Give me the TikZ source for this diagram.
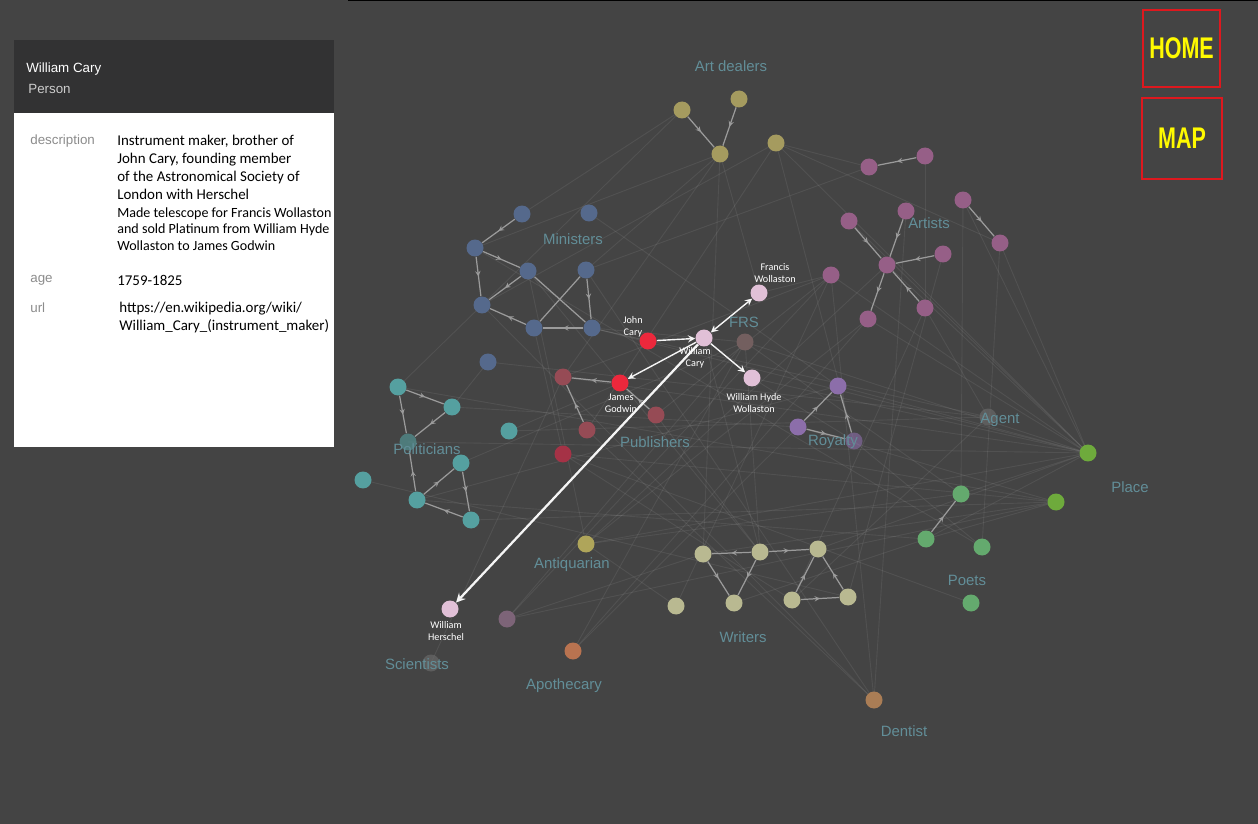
\documentclass[tikz,border=0pt]{standalone}
\usepackage{fontspec}
\usepackage{graphicx}
\setmainfont{Liberation Sans}
\newfontfamily\carlito{Carlito}
\usetikzlibrary{arrows,decorations.markings,backgrounds}

\definecolor{bgc}{RGB}{68,68,68}
\definecolor{cardhead}{RGB}{50,50,51}
\definecolor{headgray}{RGB}{205,205,205}
\definecolor{keygray}{RGB}{140,140,140}
\definecolor{grplbl}{RGB}{98,142,152}
\definecolor{edgegray}{RGB}{155,155,155}
\definecolor{navred}{RGB}{222,24,30}
\definecolor{navyel}{RGB}{255,250,0}
% group colours
\definecolor{adc}{RGB}{165,155,95}
\definecolor{arc}{RGB}{150,95,135}
\definecolor{mic}{RGB}{85,105,140}
\definecolor{poc}{RGB}{85,160,160}
\definecolor{puc}{RGB}{150,75,85}
\definecolor{pud}{RGB}{165,50,70}
\definecolor{hotc}{RGB}{236,40,60}
\definecolor{selc}{RGB}{225,192,215}
\definecolor{frsc}{RGB}{115,95,95}
\definecolor{roc}{RGB}{140,110,170}
\definecolor{agc}{RGB}{110,110,110}
\definecolor{plc}{RGB}{110,170,60}
\definecolor{pec}{RGB}{100,170,110}
\definecolor{wrc}{RGB}{185,185,145}
\definecolor{anc}{RGB}{175,165,90}
\definecolor{scc}{RGB}{125,100,120}
\definecolor{apc}{RGB}{185,115,80}
\definecolor{dec}{RGB}{170,125,85}

\tikzset{
  dot/.style={circle,inner sep=0pt,minimum size=0.34cm},
  grouplbl/.style={text=grplbl,font=\fontsize{8.5}{10}\selectfont,inner sep=0pt},
  wlabel/.style={text=white,align=center,inner sep=0pt,
    font=\carlito\fontsize{5.8}{6.9}\selectfont},
  keytxt/.style={text=keygray,anchor=west,inner sep=0pt,
    font=\fontsize{7.6}{9}\selectfont},
  cardtxt/.style={text=black,align=left,inner sep=0pt,
    font=\carlito\fontsize{8.5}{10.2}\selectfont},
  gedge/.style={draw=edgegray,line width=0.7pt,postaction={decorate},
    decoration={markings,mark=at position 0.5 with {\arrow[scale=0.8]{stealth}}}},
  hedge/.style={draw=white!92!gray,line width=0.8pt,-stealth},
  bedge/.style={draw=white,opacity=0.075,line width=0.5pt},
  navbox/.style={draw=navred,line width=1.3pt,inner sep=0pt,text=navyel}
}

\begin{document}
\begin{tikzpicture}[x=0.02cm,y=-0.02cm]
  \useasboundingbox (0,0) rectangle (1258,824);

  % info card
  \fill[cardhead] (14,40) rectangle (334,113);
  \fill[white] (14,113) rectangle (334,447);
  \node[anchor=west,inner sep=0pt,text=white,font=\fontsize{7.6}{9}\selectfont] (cname) at (26,69) {William Cary};
  \node[anchor=west,inner sep=0pt,text=headgray,font=\fontsize{7.6}{9}\selectfont] (ctype) at (28,89) {Person};
  \node[keytxt] (kdesc) at (30,141) {description};
  \node[keytxt] (kage) at (30,280) {age};
  \node[keytxt] (kurl) at (30,308) {url};
  \node[cardtxt,anchor=north west] (vdesc) at (117,135)
    {Instrument maker, brother of\\John Cary, founding member\\of the Astronomical Society of\\London with Herschel};
  \node[cardtxt,anchor=north west,font=\carlito\fontsize{8}{9.6}\selectfont] (vmade) at (117,207)
    {Made telescope for Francis Wollaston\\and sold Platinum from William Hyde\\Wollaston to James Godwin};
  \node[cardtxt,anchor=west] (vage) at (117,280) {1759-1825};
  \node[cardtxt,anchor=north west] (vurl) at (119,302)
    {https://en.wikipedia.org/wiki/\\William\_Cary\_(instrument\_maker)};

  % nav buttons
  \node[navbox,minimum width=1.54cm,minimum height=1.54cm] (home) at (1181.5,48.5)
    {\scalebox{0.72}[1]{\fontsize{17}{17}\selectfont\bfseries HOME}};
  \node[navbox,minimum width=1.6cm,minimum height=1.62cm] (map) at (1182,138.5)
    {\scalebox{0.72}[1]{\fontsize{17}{17}\selectfont\bfseries MAP}};

  % nodes
  \foreach \n/\x/\y/\c in {ad1/682/110/adc, ad2/739/99/adc, ad3/720/154/adc, ad4/776/143/adc,
      ar1/869/167/arc, ar2/925/156/arc, ar3/963/200/arc, ar4/1000/243/arc, ar5/849/221/arc,
      ar6/906/211/arc, ar7/887/265/arc, ar8/943/254/arc, ar9/831/275/arc, ar10/868/319/arc,
      ar11/925/308/arc,
      mi1/522/214/mic, mi2/589/213/mic, mi3/475/248/mic, mi4/528/271/mic, mi5/586/270/mic,
      mi6/482/305/mic, mi7/534/328/mic, mi8/592/328/mic, mi9/488/362/mic,
      po1/398/387/poc, po2/452/407/poc, po4/461/463/poc, po5/363/480/poc,
      po6/417/500/poc, po7/471/520/poc, po8/509/431/poc,
      pu1/563/377/puc, pu2/587/430/puc, pu3/563/454/pud, pu4/656/415/puc,
      jc/648/341/hotc, jg/620/383/hotc, wc/704/338/selc, fw/759/293/selc, whw/752/378/selc,
      wh/450/609/selc, frs/745/342/frsc,
      ro1/838/386/roc, ro2/798/427/roc,
      pl1/1088/453/plc, pl2/1056/502/plc,
      pe1/961/494/pec, pe2/926/539/pec, pe3/982/547/pec, pe4/971/603/pec,
      wr1/703/554/wrc, wr2/760/552/wrc, wr3/818/549/wrc, wr4/676/606/wrc, wr5/734/603/wrc,
      wr6/792/600/wrc, wr7/848/597/wrc,
      an/586/544/anc, sc1/507/619/scc, ap/573/651/apc, de/874/700/dec}
    \node[dot,fill=\c] (\n) at (\x,\y) {};
  % nodes half hidden under a group name
  \foreach \n/\x/\y/\c in {po3/408/442/poc, ro3/854/441/roc, ag/988/417/agc, sc2/431/663/agc}
    \node[dot,fill=\c,fill opacity=0.6] (\n) at (\x,\y) {};

  % faint links behind everything
  \begin{pgfonlayer}{background}
    \fill[bgc] (0,0) rectangle (1258,824);
    \draw[black,line width=1pt] (348,0.5) -- (1258,0.5);
    \foreach \a/\b in {pl1/ad4, pl1/ar5, pl1/ar7, pl1/ar9, pl1/ar10, pl1/frs, pl1/whw, pl1/ro1,
        pl1/mi8, pl1/pu1, pl1/pe1, pl1/pe2, pl1/wr3, pl1/an, pl1/po3, pl1/ar4, pl1/ar3,
        pl2/pe2, pl2/wr1, pl2/pu3, pl2/ro2, pl2/po7, ad4/ar4, ad4/ar1, ad4/mi6, ad4/pu2,
        ad4/ro3, ad3/mi3, ad3/mi5, ad3/pu1, ad3/wr1, ad1/mi1, ad1/po1, ar2/ar11, ar3/pe1,
        ar4/pe3, ar1/mi5, ar9/wr4, ar9/pu4, ar10/an, ar11/ag, mi4/wr2, mi6/de, mi7/pu3,
        mi9/po2, mi8/frs, mi2/ro1, po4/frs, po5/wr7, po6/pe2, po8/ag, po2/ro2, pu1/ar9,
        pu2/de, pu3/pe4, pu4/wr2, frs/sc1, frs/wr2, frs/ap, ro1/po6, ro2/ap, ro3/pe3,
        wr1/sc1, wr4/an, wr5/pe2, wr6/ar11, an/ar7, ap/ar10, de/mi5, de/ar9, sc1/pl2,
        sc1/ar9, ag/mi8, ag/wr6, an/pe1, sc2/pu1, po1/pl2, mi3/pe3, ar6/de, ar8/wr7,
        fw/ar9, whw/ro3, jc/mi8, jg/po8, wc/wr2, fw/ad3, frs/pe1, mi9/ag, pu3/wr6, an/mi4}
      \draw[bedge] (\a.center) -- (\b.center);
  \end{pgfonlayer}

  % links inside groups
  \foreach \a/\b in {ad1/ad3, ad2/ad3,
      ar2/ar1, ar3/ar4, ar5/ar7, ar6/ar7, ar8/ar7, ar7/ar10, ar11/ar7,
      mi1/mi3, mi3/mi4, mi3/mi6, mi4/mi6, mi7/mi6, mi5/mi8, mi8/mi7,
      po1/po2, po2/po3, po1/po3, po6/po3, po6/po4, po4/po7, po7/po6,
      jg/pu1, pu2/pu1, pu4/jg,
      ro2/ro1, ro3/ro1, ro2/ro3, pe2/pe1,
      wr2/wr1, wr1/wr5, wr2/wr5, wr2/wr3, wr6/wr3, wr7/wr3, wr6/wr7}
    \draw[gedge] (\a) -- (\b);
  \draw[draw=edgegray,line width=0.7pt] (mi4) -- (mi8);
  \draw[draw=edgegray,line width=0.7pt] (mi5) -- (mi7);

  % links of William Cary
  \draw[hedge] (jc) -- (wc);
  \draw[hedge,stealth-stealth] (wc) -- (fw);
  \draw[hedge] (wc) -- (jg);
  \draw[hedge] (wc) -- (whw);
  \draw[hedge,line width=1.3pt] (wc) -- (wh);

  % person labels
  \node[wlabel] (ljc) at (633,327) {John\\Cary};
  \node[wlabel] (lwc) at (695,358) {William\\Cary};
  \node[wlabel] (lfw) at (775,273) {Francis\\Wollaston};
  \node[wlabel] (ljg) at (621,403) {James\\Godwin};
  \node[wlabel] (lwhw) at (754,403) {William Hyde\\Wollaston};
  \node[wlabel] (lwh) at (446,631) {William\\Herschel};

  % group labels
  \node[grouplbl] (gad) at (731,66) {Art dealers};
  \node[grouplbl] (gmi) at (573,239) {Ministers};
  \node[grouplbl] (gar) at (929,223) {Artists};
  \node[grouplbl] (gfrs) at (744,322) {FRS};
  \node[grouplbl] (gpo) at (427,449) {Politicians};
  \node[grouplbl] (gpu) at (655,442) {Publishers};
  \node[grouplbl] (gro) at (833,442) {Royalty};
  \node[grouplbl] (gag) at (1000,420) {Agent};
  \node[grouplbl] (gpl) at (1130,487) {Place};
  \node[grouplbl] (gan) at (572,565) {Antiquarian};
  \node[grouplbl] (gpe) at (967,580) {Poets};
  \node[grouplbl] (gwr) at (743,637) {Writers};
  \node[grouplbl] (gsc) at (417,664) {Scientists};
  \node[grouplbl] (gap) at (564,686) {Apothecary};
  \node[grouplbl] (gde) at (904,731) {Dentist};
\end{tikzpicture}
\end{document}
